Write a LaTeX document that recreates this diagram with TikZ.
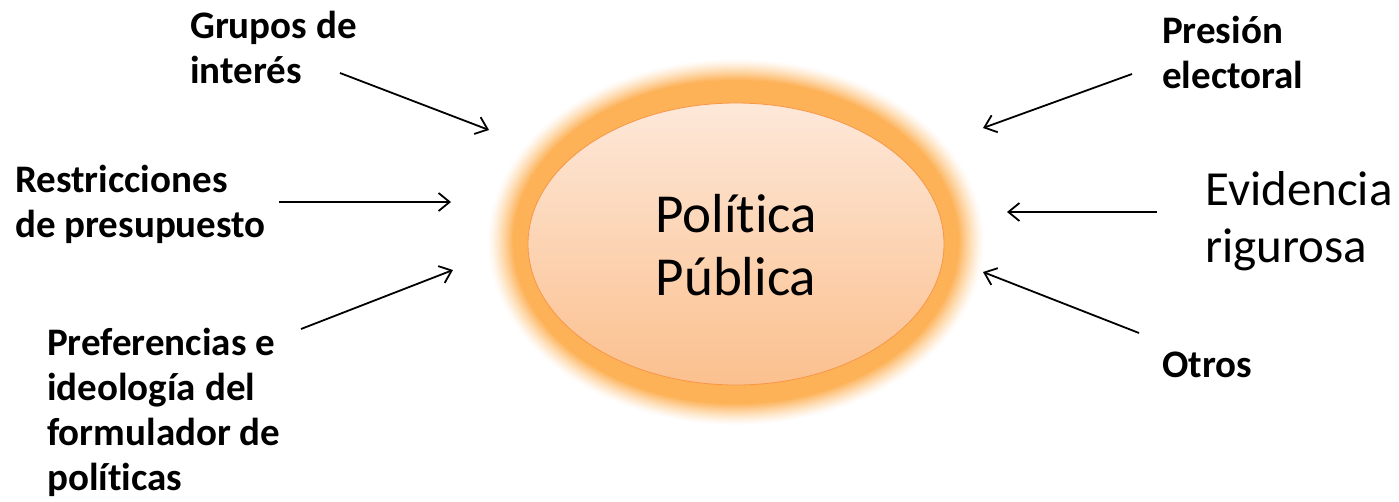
\documentclass[tikz,border=0pt]{standalone}
\usepackage{fontspec}
\setmainfont[Ligatures={NoCommon,NoRare,NoContextual}]{Carlito}
\usetikzlibrary{arrows.meta,shapes.geometric}
\definecolor{glow}{RGB}{253,178,88}
\definecolor{toptint}{RGB}{253,232,217}
\definecolor{bottint}{RGB}{251,192,142}
\definecolor{rim}{RGB}{247,150,70}
\tikzset{
  lbl/.style={anchor=base west, inner sep=0pt, align=left, font=\fontsize{39}{45}\selectfont\bfseries},
  arr/.style={line width=1.8pt, -{Straight Barb[length=11pt,width=18pt,line width=1.8pt]}},
}
\begin{document}
\begin{tikzpicture}[x=1pt,y=-1pt]
\useasboundingbox (0,0) rectangle (1399,501);
% glow
\foreach \i in {20,19,...,0} {
  \pgfmathsetmacro{\t}{\i/20}
  \pgfmathsetmacro{\pc}{100*(1-\t)^1.3}
  \fill[glow!\pc!white] (736,242) ellipse [x radius=223+26*\t, y radius=162+22*\t];
}
\node (pp) [ellipse, minimum width=416pt, minimum height=282pt, inner sep=0pt, top color=toptint, bottom color=bottint, draw=rim, line width=0.8pt] at (736,244) {};
\node [anchor=base, inner sep=0pt, align=center, font=\fontsize{55}{63}\selectfont] (ppt) at (736,295) {Política\\Pública};

\node[lbl] (gi) at (190,83) {Grupos de\\interés};
\node[lbl] (rp) at (15,237) {Restricciones\\de presupuesto};
\node[lbl] (pi) at (47,490) {Preferencias e\\ideología del\\formulador de\\políticas};
\node[lbl] (pe) at (1162,88) {Presión\\electoral};
\node[lbl, font=\fontsize{49}{57}\selectfont] (er) at (1205,262) {Evidencia\\rigurosa};
\node[lbl] (ot) at (1162,377) {Otros};

\coordinate (a1s) at (340,73);  \coordinate (a1e) at (489,130);
\coordinate (a2s) at (279,202); \coordinate (a2e) at (451,202);
\coordinate (a3s) at (301,329); \coordinate (a3e) at (453,270);
\coordinate (a4s) at (1132,74); \coordinate (a4e) at (983,128);
\coordinate (a5s) at (1157,212);\coordinate (a5e) at (1007,212);
\coordinate (a6s) at (1139,333);\coordinate (a6e) at (983,272);
\draw[arr] (a1s) -- (a1e);
\draw[arr] (a2s) -- (a2e);
\draw[arr] (a3s) -- (a3e);
\draw[arr] (a4s) -- (a4e);
\draw[arr] (a5s) -- (a5e);
\draw[arr] (a6s) -- (a6e);
\end{tikzpicture}
\end{document}
